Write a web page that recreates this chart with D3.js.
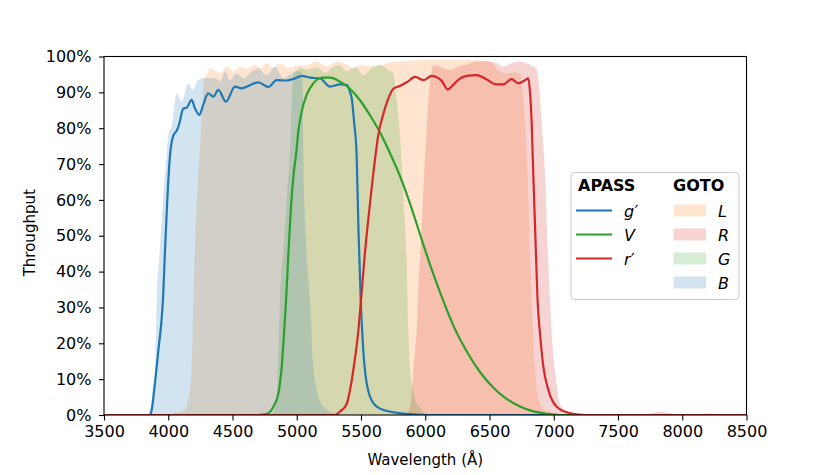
<!DOCTYPE html>
<html>
<head>
<meta charset="utf-8">
<script src="https://cdn.jsdelivr.net/npm/d3@7"></script>
<title>APASS and GOTO filter throughput</title>
<style>
body { margin: 0; background: #fff; }
text { font-family: "DejaVu Sans", sans-serif; fill: #000; }
</style>
</head>
<body>
<svg id="chart" width="830" height="475"></svg>
<script>
// [wavelength in Angstrom, throughput in %]
var gPrimeBand = [[3500,0],[3860,0],[3871,1.4],[3897,9],[3923,18],[3949,27],[3960,33],[3975,46],[3990,58],[4000,65],[4014,72.5],
  [4040,78],[4060,79],[4075,80],[4091,82],[4117,85.5],[4143,85.7],[4182,87.9],[4207,85.6],[4242,83.7],[4272,86.5],[4311,89.7],
  [4351,88.8],[4390,90.7],[4449,87.4],[4519,91.6],[4571,91.1],[4636,92],[4701,92.8],[4779,91.5],[4843,93.4],[4921,93.3],
  [4986,93.9],[5040,94.6],[5103,94.1],[5181,93.9],[5259,91.6],[5336,92.2],[5391,92],[5415,90],[5428,88.3],[5446,81.8],
  [5466,72.5],[5480,52],[5498,32],[5518,18],[5544,8.9],[5596,3.3],[5674,1.4],[5856,0.3],[6000,0],[8500,0]];

var vBand = [[3500,0],[4700,0],[4766,0.3],[4818,2.3],[4857,6],[4883,13.5],[4901,22.8],[4917,32],[4935,45],[4955,58],
  [4975,67],[4994,72.5],[5012,79],[5038,84.6],[5077,89.3],[5129,92.5],[5194,94.1],[5259,94.1],[5336,93],[5414,91],
  [5492,87.8],[5570,83.6],[5648,78.8],[5726,73],[5816,65.5],[5895,57.5],[5972,49],[6050,40.6],[6128,33],[6218,25],
  [6322,17.8],[6426,12],[6530,7.6],[6633,4.5],[6737,2.4],[6841,1],[6945,0.35],[7050,0],[8500,0]];

var rPrimeBand = [[3500,0],[5300,0],[5337,1],[5388,3],[5420,8],[5450,15],[5475,22],[5500,32],[5530,45],[5570,59],
  [5608,71],[5634,78],[5674,84],[5713,88.3],[5752,91],[5803,91.8],[5856,92.8],[5920,94.3],[5985,93.4],[6050,94.6],
  [6085,94.3],[6128,93.2],[6175,90.8],[6215,92],[6257,93.5],[6322,94.6],[6400,94.8],[6478,93.6],[6555,92.2],[6607,92.2],
  [6672,93.7],[6724,92.5],[6776,93.4],[6802,93.9],[6815,90.2],[6828,81.8],[6836,72.5],[6855,52],[6874,32],[6893,22.8],
  [6919,13.5],[6958,7],[7023,2.3],[7127,0.5],[7250,0],[8500,0]];

var gotoL = [[3500,0],[4000,0],[4037,0.5],[4100,1],[4130,1.5],[4156,4],[4182,13],[4195,32],[4220,58],[4247,75],
  [4260,83],[4272,91],[4286,94.5],[4298,95],[4325,96.7],[4403,95.3],[4455,97.2],[4506,95.8],[4558,97.2],[4610,96.5],
  [4675,97.6],[4714,96.7],[4766,98.1],[4818,96.9],[4870,98.1],[4934,96.9],[5000,97.5],[5077,97.6],[5155,98.6],[5233,97.2],
  [5310,98.6],[5388,97.8],[5440,96.6],[5492,97.6],[5580,97.3],[5674,97.8],[5752,98.6],[5829,98.7],[5950,99],[6100,99],
  [6300,99],[6500,98.6],[6560,96.5],[6620,95.2],[6700,95.6],[6740,95],[6760,90],[6780,80],[6795,68],[6820,40],
  [6850,15],[6880,5],[6920,1.5],[7000,0.5],[7100,0],[8500,0]];

var gotoR = [[3500,0],[5800,0],[5856,0.3],[5880,2],[5895,6],[5913,15],[5933,23.7],[5950,38],[5972,51.6],[5990,66],
  [6011,79.5],[6025,88],[6036,92],[6063,97.6],[6141,96.7],[6193,96.2],[6257,97.2],[6322,97.8],[6400,98.6],[6478,98.7],
  [6555,98.1],[6607,97.2],[6672,98.1],[6724,98.6],[6789,98.1],[6841,97.2],[6867,96.7],[6885,92],[6905,82],[6932,68],
  [6955,45],[6971,32],[6995,18],[7023,8],[7050,3],[7100,1],[7200,0.3],[7300,0],[7700,0],[7826,1],[7950,0.3],
  [8100,0.2],[8216,0.5],[8350,0],[8500,0]];

var gotoG = [[3500,0],[4780,0],[4818,1],[4840,4],[4855,15],[4870,32],[4900,48],[4925,62],[4947,72.5],[4960,86],
  [4973,94.5],[5000,96],[5025,97],[5077,96.3],[5155,97],[5220,95.5],[5280,97],[5336,97.6],[5388,95.8],[5453,97.2],
  [5518,94.8],[5583,96.7],[5648,97.6],[5713,96.2],[5752,95.3],[5780,87],[5800,80],[5829,61],[5856,42],[5868,24],
  [5881,13.5],[5900,8],[5920,4.5],[5972,1.4],[6036,0],[8500,0]];

var gotoB = [[3500,0],[3830,0],[3845,0.5],[3862,2],[3875,5],[3882,9],[3889,6.5],[3900,14],[3910,32],[3930,44],
  [3950,55],[3970,65],[3988,72.5],[4000,78],[4026,80.4],[4066,89.7],[4105,87.4],[4156,92.5],[4193,90.7],[4231,93.4],
  [4286,94],[4364,94],[4403,93],[4442,95.8],[4480,93.4],[4532,95.3],[4584,94],[4636,95.3],[4701,96.7],[4740,95.3],
  [4766,94.8],[4831,97.2],[4896,94],[4950,95],[5000,96],[5038,95.5],[5045,91],[5051,72.5],[5070,50],[5103,32],
  [5129,13.5],[5181,4],[5230,1.5],[5285,0.5],[5350,0],[8500,0]];

var xTicks = [3500,4000,4500,5000,5500,6000,6500,7000,7500,8000,8500];
var yTicks = [0,10,20,30,40,50,60,70,80,90,100];

var gotoNames = ["L", "R", "G", "B"];
var apassNames = [["g", "\u2032"], ["V", ""], ["r", "\u2032"]];

var svg = d3.select("#chart");

var plotLeft = 104, plotRight = 746.5, plotTop = 56.5, plotBottom = 415;

var x = d3.scaleLinear().domain([3500, 8500]).range([plotLeft, plotRight]);
var y = d3.scaleLinear().domain([0, 100]).range([plotBottom, plotTop]);

svg.append("defs").append("clipPath").attr("id", "plot")
  .append("rect").attr("x", plotLeft).attr("y", plotTop - 2)
  .attr("width", plotRight - plotLeft).attr("height", plotBottom - plotTop + 2);

var area = d3.area()
  .x(function(d) { return x(d[0]); })
  .y0(y(0))
  .y1(function(d) { return y(d[1]); })
  .curve(d3.curveMonotoneX);

var line = d3.line()
  .x(function(d) { return x(d[0]); })
  .y(function(d) { return y(d[1]); })
  .curve(d3.curveMonotoneX);

// GOTO filters as shaded areas
var fills = [
  {data: gotoL, color: "#ff7f0e"},
  {data: gotoR, color: "#d62728"},
  {data: gotoG, color: "#2ca02c"},
  {data: gotoB, color: "#1f77b4"}
];
var plot = svg.append("g").attr("clip-path", "url(#plot)");
fills.forEach(function(f) {
  plot.append("path").datum(f.data)
    .attr("d", area)
    .attr("fill", f.color)
    .attr("fill-opacity", 0.2);
});

// APASS filters as lines
var lines = [
  {data: gPrimeBand, color: "#1f77b4"},
  {data: vBand, color: "#2ca02c"},
  {data: rPrimeBand, color: "#d62728"}
];
lines.forEach(function(l) {
  plot.append("path").datum(l.data)
    .attr("d", line)
    .attr("fill", "none")
    .attr("stroke", l.color)
    .attr("stroke-width", 2.2)
    .attr("stroke-linejoin", "round");
});

// axes
var xAxis = d3.axisBottom(x).tickValues(xTicks).tickSize(5.5).tickSizeOuter(0).tickPadding(5)
  .tickFormat(d3.format("d"));
var yAxis = d3.axisLeft(y).tickValues(yTicks).tickSize(5).tickSizeOuter(0).tickPadding(7.5)
  .tickFormat(function(d) { return d + "%"; });

var gx = svg.append("g").attr("transform", "translate(0," + plotBottom + ")").call(xAxis);
var gy = svg.append("g").attr("transform", "translate(" + plotLeft + ",0)").call(yAxis);
[gx, gy].forEach(function(g) {
  g.select(".domain").remove();
  g.selectAll("line").attr("stroke", "#000").attr("stroke-width", 1.1);
  g.selectAll("text").style("font-family", "DejaVu Sans").style("font-size", "16px").attr("fill", "#000");
});

svg.append("rect")
  .attr("x", plotLeft).attr("y", plotTop)
  .attr("width", plotRight - plotLeft).attr("height", plotBottom - plotTop)
  .attr("fill", "none").attr("stroke", "#000").attr("stroke-width", 1.1);

svg.append("text")
  .attr("x", (plotLeft + plotRight) / 2).attr("y", 465)
  .attr("text-anchor", "middle").style("font-size", "15px")
  .text("Wavelength (\u00c5)");

svg.append("text")
  .attr("transform", "translate(35," + ((plotTop + plotBottom) / 2 - 3) + ") rotate(-90)")
  .attr("text-anchor", "middle").style("font-size", "15px")
  .text("Throughput");

// legend
var lg = svg.append("g");
lg.append("rect")
  .attr("x", 571).attr("y", 172.5).attr("width", 168).attr("height", 127).attr("rx", 3.5)
  .attr("fill", "#fff").attr("fill-opacity", 0.8).attr("stroke", "#cccccc").attr("stroke-width", 1);

lg.append("text").attr("x", 578).attr("y", 191).style("font-size", "16px").style("font-weight", "bold").text("APASS");
lg.append("text").attr("x", 673).attr("y", 191).style("font-size", "16px").style("font-weight", "bold").text("GOTO");

var rowY = d3.scaleLinear().domain([0, 1]).range([210.5, 234.5]);

lines.forEach(function(l, i) {
  lg.append("line")
    .attr("x1", 576).attr("x2", 612).attr("y1", rowY(i)).attr("y2", rowY(i))
    .attr("stroke", l.color).attr("stroke-width", 2.2);
  var t = lg.append("text").attr("x", 624).attr("y", rowY(i) + 6).style("font-size", "16px");
  t.append("tspan").style("font-style", "italic").text(apassNames[i][0]);
  t.append("tspan").attr("dx", 0.5).style("font-style", "normal").text(apassNames[i][1]);
});

fills.forEach(function(f, i) {
  lg.append("rect")
    .attr("x", 673.5).attr("y", rowY(i) - 6).attr("width", 32.5).attr("height", 12)
    .attr("fill", f.color).attr("fill-opacity", 0.2);
  lg.append("text").attr("x", 718).attr("y", rowY(i) + 6)
    .style("font-size", "16px").style("font-style", "italic").text(gotoNames[i]);
});
</script>
</body>
</html>
